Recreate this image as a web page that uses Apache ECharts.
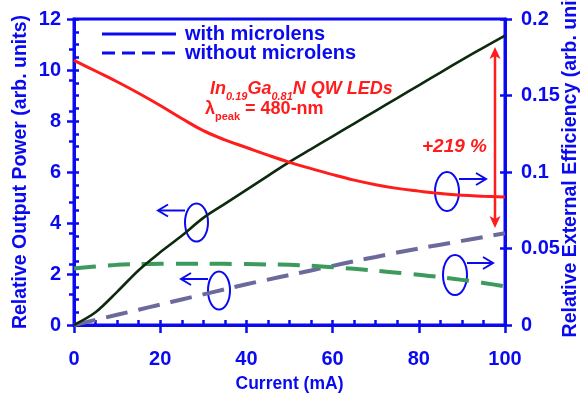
<!DOCTYPE html>
<html>
<head>
<meta charset="utf-8">
<script src="https://cdn.jsdelivr.net/npm/echarts@6/dist/echarts.min.js"></script>
<style>html,body{margin:0;padding:0;background:#fff;}#c{width:584px;height:394px;}</style>
</head>
<body>
<div id="c"></div>
<script>
const current = [0,5,10,15,20,25,30,35,40,45,50,55,60,65,70,75,80,85,90,95,100];
const powerWith = [0,0.5,1.3,2.15,2.85,3.5,4.2,4.75,5.3,5.85,6.4,6.9,7.4,7.9,8.4,8.9,9.4,9.9,10.4,10.88,11.35];
const powerWithout = [0,0.2,0.4,0.6,0.8,1.0,1.2,1.4,1.6,1.78,1.96,2.14,2.32,2.5,2.67,2.84,3.0,3.15,3.3,3.45,3.6];
const effWith = [0.173,0.166,0.159,0.1515,0.1435,0.135,0.127,0.121,0.116,0.111,0.1063,0.1022,0.0983,0.0947,0.0917,0.0893,0.0875,0.0859,0.0848,0.0842,0.0837];
const effWithout = [0.037,0.0383,0.0393,0.0398,0.04,0.0401,0.0401,0.04,0.0398,0.0396,0.0393,0.0387,0.0378,0.0367,0.0355,0.0342,0.0328,0.0313,0.0295,0.0275,0.0253];
const xTicks = [0,20,40,60,80,100];
const leftTicks = [0,2,4,6,8,10,12];
const rightTicks = [0,0.05,0.1,0.15,0.2];
const legendNames = ['with microlens','without microlens'];

const BLUE = '#0a0af0';
const RED = '#ff1c1c';
const FONT = 'Liberation Sans, Arial, sans-serif';

function pairs(ys){ return current.map((x,i)=>[x, ys[i]]); }

const chart = echarts.init(document.getElementById('c'), null, {renderer:'canvas'});

const baseLabel = {color: BLUE, fontSize: 20, fontWeight: 'bold', fontFamily: FONT};

const option = {
  animation: false,
  grid: {left: 74, right: 79, top: 19, bottom: 69, show: true, borderColor: BLUE, borderWidth: 3, backgroundColor: 'transparent', containLabel: false, outerBoundsMode: 'none'},
  xAxis: [
    {type: 'value', min: 0, max: 100, interval: 20,
     name: 'Current (mA)', nameLocation: 'middle', nameGap: 50, nameMoveOverlap: false,
     nameTextStyle: {color: BLUE, fontSize: 17.5, fontWeight: 'bold', fontFamily: FONT},
     axisLine: {show: true, onZero: false, lineStyle: {color: BLUE, width: 3}},
     axisTick: {show: true, inside: false, length: 8, lineStyle: {color: BLUE, width: 2.5}},
     axisLabel: Object.assign({margin: 24, formatter: v => xTicks.includes(v) ? String(v) : ''}, baseLabel),
     splitLine: {show: false}},
    {type: 'value', min: 0, max: 100, interval: 5, position: 'bottom',
     axisLine: {show: false}, axisLabel: {show: false}, splitLine: {show: false},
     axisTick: {show: true, inside: true, length: 5, lineStyle: {color: BLUE, width: 2.5}}}
  ],
  yAxis: [
    {type: 'value', min: 0, max: 12, interval: 2, position: 'left',
     name: 'Relative Output Power (arb. units)', nameLocation: 'middle', nameGap: 43, nameRotate: 90, nameMoveOverlap: false,
     nameTextStyle: {color: BLUE, fontSize: 19.5, fontWeight: 'bold', fontFamily: FONT},
     axisLine: {show: true, onZero: false, lineStyle: {color: BLUE, width: 3}},
     axisTick: {show: true, inside: false, length: 7, lineStyle: {color: BLUE, width: 2.5}},
     axisLabel: Object.assign({margin: 13, formatter: v => leftTicks.includes(v) ? String(v) : ''}, baseLabel),
     splitLine: {show: false}},
    {type: 'value', min: 0, max: 12, interval: 0.5, position: 'left',
     axisLine: {show: false}, axisLabel: {show: false}, splitLine: {show: false},
     axisTick: {show: true, inside: true, length: 5, lineStyle: {color: BLUE, width: 2.5}}},
    {type: 'value', min: 0, max: 0.2, interval: 0.05, position: 'right',
     name: 'Relative External Efficiency (arb. units)', nameLocation: 'middle', nameGap: 56, nameRotate: 90, nameMoveOverlap: false,
     nameTextStyle: {color: BLUE, fontSize: 19.5, fontWeight: 'bold', fontFamily: FONT, padding: [0,0,0,30]},
     axisLine: {show: true, onZero: false, lineStyle: {color: BLUE, width: 3}},
     axisTick: {show: true, inside: false, length: 7, lineStyle: {color: BLUE, width: 2.5}},
     axisLabel: Object.assign({margin: 16, formatter: v => {const r = rightTicks.find(t => Math.abs(t - v) < 1e-9); return r === undefined ? '' : String(r);}}, baseLabel),
     splitLine: {show: false}},
    {type: 'value', min: 0, max: 0.2, interval: 0.02, position: 'right',
     axisLine: {show: false}, axisLabel: {show: false}, splitLine: {show: false},
     axisTick: {show: true, inside: true, length: 5, lineStyle: {color: BLUE, width: 2.5}}},
    {type: 'value', min: 0, max: 0.2, interval: 0.05, position: 'right',
     axisLine: {show: false}, axisLabel: {show: false}, splitLine: {show: false},
     axisTick: {show: true, inside: true, length: 5, lineStyle: {color: BLUE, width: 2.5}}}
  ],
  series: [
    {name: 'with microlens (power)', type: 'line', xAxisIndex: 0, yAxisIndex: 0, data: pairs(powerWith),
     smooth: 0.3, showSymbol: false, lineStyle: {color: '#0d2a0f', width: 2.6}, z: 3},
    {name: 'without microlens (power)', type: 'line', xAxisIndex: 0, yAxisIndex: 0, data: pairs(powerWithout),
     smooth: 0.3, showSymbol: false, lineStyle: {color: '#6c6a9c', width: 4, type: [22, 11]}, z: 2},
    {name: 'with microlens (efficiency)', type: 'line', xAxisIndex: 0, yAxisIndex: 2, data: pairs(effWith),
     smooth: 0.4, showSymbol: false, lineStyle: {color: RED, width: 3}, z: 3},
    {name: 'without microlens (efficiency)', type: 'line', xAxisIndex: 0, yAxisIndex: 2, data: pairs(effWithout),
     smooth: 0.3, showSymbol: false, lineStyle: {color: '#3b9a5c', width: 4, type: [22, 12]}, z: 2}
  ],
  graphic: [
    // legend
    {type: 'line', shape: {x1: 102, y1: 34, x2: 176, y2: 34}, style: {stroke: BLUE, lineWidth: 3}},
    {type: 'text', left: 185, top: 24, style: {text: legendNames[0], fill: BLUE, font: 'bold 20px ' + FONT}},
    {type: 'line', shape: {x1: 102, y1: 53, x2: 176, y2: 53}, style: {stroke: BLUE, lineWidth: 3, lineDash: [13, 7]}},
    {type: 'text', left: 185, top: 43, style: {text: legendNames[1], fill: BLUE, font: 'bold 20px ' + FONT}},
    // red annotation
    {type: 'text', x: 210, y: 76, style: {
      text: '{m|In}{s|0.19}{m|Ga}{s|0.81}{m|N QW LEDs}',
      rich: {
        m: {fill: RED, fontSize: 18, fontWeight: 'bold', fontStyle: 'italic', fontFamily: FONT, lineHeight: 26, verticalAlign: 'middle'},
        s: {fill: RED, fontSize: 11, fontWeight: 'bold', fontStyle: 'italic', fontFamily: FONT, lineHeight: 12, verticalAlign: 'bottom'}
      }}},
    {type: 'text', x: 205, y: 96, style: {
      text: '{m|λ}{s|peak}{m| = 480-nm}',
      rich: {
        m: {fill: RED, fontSize: 18, fontWeight: 'bold', fontFamily: FONT, lineHeight: 26, verticalAlign: 'middle'},
        s: {fill: RED, fontSize: 11, fontWeight: 'bold', fontFamily: FONT, lineHeight: 12, verticalAlign: 'bottom'}
      }}},
    {type: 'text', x: 422, y: 137, style: {text: '+219 %', fill: RED, font: 'italic bold 19px ' + FONT}},
    // red double arrow
    {type: 'line', shape: {x1: 495, y1: 54, x2: 495, y2: 221}, style: {stroke: RED, lineWidth: 2.5}},
    {type: 'polygon', shape: {points: [[495, 47], [500.5, 59], [495, 56], [489.5, 59]]}, style: {fill: RED}},
    {type: 'polygon', shape: {points: [[495, 228], [500.5, 216], [495, 219], [489.5, 216]]}, style: {fill: RED}},
    // blue ellipses + arrows
    {type: 'ellipse', shape: {cx: 196.5, cy: 222.5, rx: 11.5, ry: 19}, style: {stroke: BLUE, lineWidth: 2, fill: 'none'}},
    {type: 'polyline', shape: {points: [[185, 210.5], [159, 210.5]]}, style: {stroke: BLUE, lineWidth: 2, fill: 'none'}},
    {type: 'polyline', shape: {points: [[168, 204.5], [158, 210.5], [168, 216.5]]}, style: {stroke: BLUE, lineWidth: 2, fill: 'none'}},

    {type: 'ellipse', shape: {cx: 219, cy: 290.5, rx: 11, ry: 19}, style: {stroke: BLUE, lineWidth: 2, fill: 'none'}},
    {type: 'polyline', shape: {points: [[208, 279], [182, 279]]}, style: {stroke: BLUE, lineWidth: 2, fill: 'none'}},
    {type: 'polyline', shape: {points: [[191, 273], [181, 279], [191, 285]]}, style: {stroke: BLUE, lineWidth: 2, fill: 'none'}},

    {type: 'ellipse', shape: {cx: 447, cy: 191.5, rx: 12, ry: 19.5}, style: {stroke: BLUE, lineWidth: 2, fill: 'none'}},
    {type: 'polyline', shape: {points: [[459, 179], [485, 179]]}, style: {stroke: BLUE, lineWidth: 2, fill: 'none'}},
    {type: 'polyline', shape: {points: [[476, 173], [486, 179], [476, 185]]}, style: {stroke: BLUE, lineWidth: 2, fill: 'none'}},

    {type: 'ellipse', shape: {cx: 455, cy: 275, rx: 12, ry: 20}, style: {stroke: BLUE, lineWidth: 2, fill: 'none'}},
    {type: 'polyline', shape: {points: [[467, 263], [492, 263]]}, style: {stroke: BLUE, lineWidth: 2, fill: 'none'}},
    {type: 'polyline', shape: {points: [[483, 257], [493, 263], [483, 269]]}, style: {stroke: BLUE, lineWidth: 2, fill: 'none'}}
  ]
};
chart.setOption(option);
</script>
</body>
</html>
